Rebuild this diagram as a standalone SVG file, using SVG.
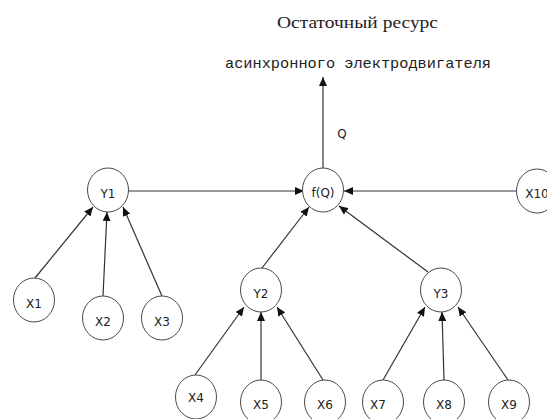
<svg xmlns="http://www.w3.org/2000/svg" width="547" height="419" viewBox="0 0 547 419">
<style>
.n ellipse{fill:#fff;stroke:#4a4a4a;stroke-width:1}
.n text{font-family:"DejaVu Sans",sans-serif;font-size:12px;fill:#222;text-anchor:middle}
.e line{stroke:#333;stroke-width:1.2;marker-end:url(#ah)}
.t{fill:#222}
</style>
<defs>
<marker id="ah" markerUnits="userSpaceOnUse" markerWidth="10" markerHeight="8" refX="9" refY="4" orient="auto">
<path d="M0,0 L9,4 L0,8 z" fill="#111"/>
</marker>
</defs>
<rect width="547" height="419" fill="#fff"/>
<text class="t" x="277" y="28" font-family="Liberation Serif, serif" font-size="16" textLength="161" lengthAdjust="spacingAndGlyphs">Остаточный ресурс</text>
<text class="t" x="225" y="68" font-family="Liberation Mono, monospace" font-size="15" textLength="266" lengthAdjust="spacingAndGlyphs">асинхронного электродвигателя</text>
<text class="t" x="342" y="138" font-family="DejaVu Sans, sans-serif" font-size="12" text-anchor="middle">Q</text>
<g class="e" id="edges">
<line x1="323" y1="169" x2="323" y2="77"/>
<line x1="128" y1="191" x2="304" y2="191"/>
<line x1="516" y1="191" x2="344" y2="191"/>
<line x1="262" y1="268" x2="309" y2="207"/>
<line x1="428" y1="272" x2="339" y2="206"/>
<line x1="35" y1="278" x2="93" y2="207"/>
<line x1="103" y1="296" x2="107" y2="212"/>
<line x1="162" y1="296" x2="123" y2="207"/>
<line x1="195" y1="375" x2="244" y2="307"/>
<line x1="261" y1="380" x2="261" y2="312"/>
<line x1="323" y1="380" x2="277" y2="307"/>
<line x1="383" y1="380" x2="425" y2="307"/>
<line x1="444" y1="380" x2="442" y2="312"/>
<line x1="508" y1="380" x2="458" y2="307"/>
</g>
<g class="n" id="fQ"><ellipse cx="323" cy="190" rx="20.5" ry="22"/><text x="323" y="197">f(Q)</text></g>
<g class="n" id="Y1"><ellipse cx="108" cy="190" rx="20.5" ry="22"/><text x="108" y="198">Y1</text></g>
<g class="n" id="X10"><ellipse cx="537" cy="191" rx="20.5" ry="22"/><text x="537" y="198">X10</text></g>
<g class="n" id="Y2"><ellipse cx="261" cy="290" rx="20.5" ry="22"/><text x="261" y="298">Y2</text></g>
<g class="n" id="Y3"><ellipse cx="441" cy="290" rx="20.5" ry="22"/><text x="441" y="298">Y3</text></g>
<g class="n" id="X1"><ellipse cx="34" cy="300" rx="20.5" ry="22"/><text x="34" y="308">X1</text></g>
<g class="n" id="X2"><ellipse cx="103" cy="318" rx="20.5" ry="22"/><text x="103" y="326">X2</text></g>
<g class="n" id="X3"><ellipse cx="162" cy="318" rx="20.5" ry="22"/><text x="162" y="326">X3</text></g>
<g class="n" id="X4"><ellipse cx="196" cy="397" rx="20.5" ry="22"/><text x="196" y="402">X4</text></g>
<g class="n" id="X5"><ellipse cx="261" cy="402" rx="20.5" ry="22"/><text x="261" y="409">X5</text></g>
<g class="n" id="X6"><ellipse cx="325" cy="402" rx="20.5" ry="22"/><text x="325" y="409">X6</text></g>
<g class="n" id="X7"><ellipse cx="383" cy="402" rx="20.5" ry="22"/><text x="378" y="409">X7</text></g>
<g class="n" id="X8"><ellipse cx="444" cy="402" rx="20.5" ry="22"/><text x="444" y="409">X8</text></g>
<g class="n" id="X9"><ellipse cx="509" cy="402" rx="20.5" ry="22"/><text x="509" y="409">X9</text></g>
</svg>
